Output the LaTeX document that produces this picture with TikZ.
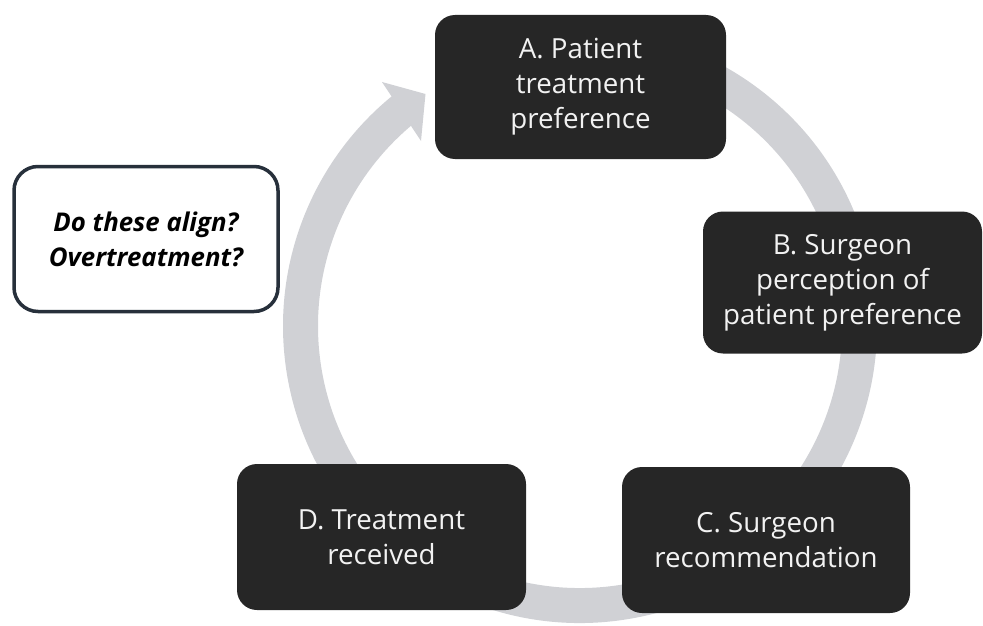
\documentclass[tikz,border=0pt]{standalone}
\usepackage{fontspec}
\setmainfont{Open Sans}
\definecolor{boxfill}{HTML}{262626}
\definecolor{boxtext}{HTML}{F2F2F2}
\definecolor{ringgray}{HTML}{D0D1D5}
\definecolor{qborder}{HTML}{27303B}
\tikzset{
  stagebox/.style={draw=none, fill=boxfill, rounded corners=20pt, text=boxtext,
    align=center, inner sep=0pt,
    font=\fontsize{27.7}{35}\selectfont},
  questionbox/.style={draw=qborder, line width=3.5pt, fill=white, rounded corners=24pt,
    text=black, align=center, inner sep=0pt,
    font=\fontsize{25.8}{35}\selectfont\bfseries\itshape},
  ringband/.style={draw=ringgray, line width=35pt},
}
\begin{document}
\begin{tikzpicture}[x=1pt,y=-1pt]
\useasboundingbox (0,0) rectangle (983,626);
% cycle ring
\coordinate (c) at (580,326);
\draw[ringband] (c) ++(-100:279.5) arc[start angle=-100, end angle=231, radius=279.5];
\coordinate (h1) at (382,82);
\coordinate (h2) at (425.5,94);
\coordinate (h3) at (421,141);
\fill[ringgray] (h1) -- (h2) -- (h3) -- cycle;
% stages
\node[stagebox, minimum width=291pt, minimum height=144pt] (A) at (580.5,87)
  {A. Patient\\treatment\\preference};
\node[stagebox, minimum width=279pt, minimum height=142pt] (B) at (842.5,282.5)
  {B. Surgeon\\perception of\\patient preference};
\node[stagebox, minimum width=288pt, minimum height=146pt] (C) at (766,540)
  {C. Surgeon\\recommendation};
\node[stagebox, minimum width=289pt, minimum height=146pt] (D) at (381.5,537)
  {D. Treatment\\received};
% question
\node[questionbox, minimum width=264pt, minimum height=145pt] (Q) at (146,239)
  {Do these align?\\Overtreatment?};
\end{tikzpicture}
\end{document}
